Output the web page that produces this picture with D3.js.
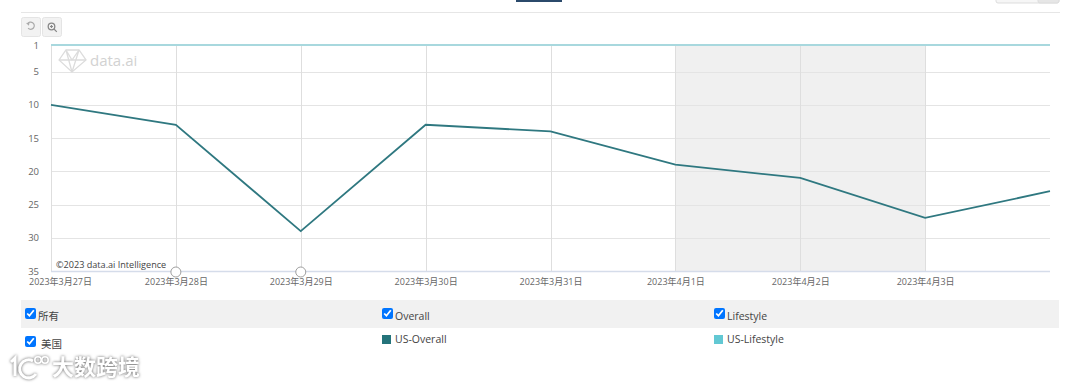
<!DOCTYPE html>
<html>
<head>
<meta charset="utf-8">
<script src="https://cdn.jsdelivr.net/npm/d3@7"></script>
<style>
  html, body { margin: 0; padding: 0; background: #fff; overflow: hidden; }
  #chart { position: relative; width: 1080px; height: 386px; }
  svg { position: absolute; left: 0; top: 0; }
  text { font-family: "Open Sans", "Noto Sans CJK SC", sans-serif; }
  input { position: absolute; margin: 0; width: 11px; height: 11px; }
  .axis text { font-size: 9.5px; fill: #666; }
  .x-axis text { font-size: 9px; }
  .axis path, .axis line { display: none; }
  .legend-text { font-size: 10.5px; fill: #444; }
</style>
</head>
<body>
<div id="chart"></div>
<script>
// データ
const dates = ['2023-03-27', '2023-03-28', '2023-03-29', '2023-03-30', '2023-03-31', '2023-04-01', '2023-04-02', '2023-04-03', '2023-04-04'];
const overallRank = [10, 13, 29, 13, 14, 19, 21, 27, 23];
const lifestyleRank = [1, 1, 1, 1, 1, 1, 1, 1, 1];
const yTicks = [1, 5, 10, 15, 20, 25, 30, 35];
const weekend = ['2023-04-01', '2023-04-03'];
const eventDates = ['2023-03-28', '2023-03-29'];
const headerLabels = ['所有', 'Overall', 'Lifestyle'];
const rowLabels = ['美国', 'US-Overall', 'US-Lifestyle'];

const colors = { overall: '#2f7880', lifestyle: '#a8d8de', swatchOverall: '#24737a', swatchLifestyle: '#62c8d3' };
const width = 1080, height = 386;
const margin = { top: 45, right: 30, bottom: 115, left: 51 };

const parseDay = d3.utcParse('%Y-%m-%d');
const formatDay = d => `${d.getUTCFullYear()}年${d.getUTCMonth() + 1}月${d.getUTCDate()}日`;

const container = d3.select('#chart');
const svg = container.append('svg').attr('width', width).attr('height', height);

const x = d3.scaleUtc()
    .domain(d3.extent(dates, parseDay))
    .range([margin.left, width - margin.right]);
const y = d3.scaleLinear()
    .domain([1, 35])
    .range([margin.top, height - margin.bottom]);

// 上部の枠とボタン
svg.append('rect').attr('x', 516).attr('y', 0).attr('width', 46).attr('height', 2).attr('fill', '#2b4a6b');
svg.append('rect').attr('x', 996).attr('y', -4).attr('width', 63).attr('height', 7).attr('rx', 2)
    .attr('fill', '#f6f6f6').attr('stroke', '#ddd');
svg.append('rect').attr('x', 1038).attr('y', -4).attr('width', 21).attr('height', 7).attr('rx', 2)
    .attr('fill', '#e6e6e6').attr('stroke', '#ddd');
svg.append('line').attr('x1', 21).attr('x2', 1060).attr('y1', 12.5).attr('y2', 12.5).attr('stroke', '#e6e6e6');

const buttons = svg.selectAll('.tool').data([21.5, 42.5]).enter().append('g')
    .attr('class', 'tool').attr('transform', d => `translate(${d},17.5)`);
buttons.append('rect').attr('width', 19).attr('height', 19).attr('rx', 2)
    .attr('fill', '#f2f2f2').attr('stroke', '#e4e4e4');
// 元に戻すアイコン
svg.append('path').attr('d', 'M27.5 24 a3.6 3.6 0 1 1 0.6 4.2').attr('fill', 'none').attr('stroke', '#aaa').attr('stroke-width', 1.2);
svg.append('path').attr('d', 'M26 23 l3.5 -0.3 l-0.6 3 z').attr('fill', '#aaa');
// ズームアイコン
svg.append('circle').attr('cx', 51.5).attr('cy', 26.5).attr('r', 3.3).attr('fill', 'none').attr('stroke', '#888').attr('stroke-width', 1.3);
svg.append('path').attr('d', 'M54 29 L56.8 31.8 M50 26.5 H53 M51.5 25 V28').attr('stroke', '#888').attr('stroke-width', 1.2).attr('fill', 'none');

// 週末の帯
svg.append('rect')
    .attr('x', x(parseDay(weekend[0])))
    .attr('y', y(1))
    .attr('width', x(parseDay(weekend[1])) - x(parseDay(weekend[0])))
    .attr('height', y(35) - y(1))
    .attr('fill', '#f0f0f0');

// グリッド線
svg.append('g').selectAll('line').data(yTicks).enter().append('line')
    .attr('x1', margin.left).attr('x2', width - margin.right)
    .attr('y1', d => Math.round(y(d)) + 0.5).attr('y2', d => Math.round(y(d)) + 0.5)
    .attr('stroke', '#e4e4e4');
svg.append('g').selectAll('line').data(dates.slice(0, -1)).enter().append('line')
    .attr('x1', d => Math.round(x(parseDay(d))) + 0.5).attr('x2', d => Math.round(x(parseDay(d))) + 0.5)
    .attr('y1', y(1)).attr('y2', y(35))
    .attr('stroke', '#dedede');

// ウォーターマーク
const logo = svg.append('g').attr('fill', 'none').attr('stroke', '#dcdcdc').attr('stroke-width', 1.3);
logo.append('path').attr('d', 'M59 60 L66 50 H79 L86 60 L72 72 Z');
logo.append('path').attr('d', 'M59 60 H86 M66 50 L72 72 M79 50 L72 72 M66 50 L72 60 L79 50');
svg.append('text').attr('x', 90).attr('y', 66).attr('font-size', 15).attr('fill', '#d2d2d2').text('data.ai');

// 軸
const yAxis = d3.axisLeft(y).tickValues(yTicks).tickSize(0).tickPadding(12);
svg.append('g').attr('class', 'axis').attr('transform', `translate(${margin.left},0)`).call(yAxis);

const xAxis = d3.axisBottom(x)
    .tickValues(dates.slice(0, -1).map(parseDay))
    .tickFormat(formatDay)
    .tickSize(0)
    .tickPadding(8);
const xAxisG = svg.append('g').attr('class', 'axis x-axis').attr('transform', `translate(0,${y(35)})`).call(xAxis);
xAxisG.selectAll('text').filter((d, i) => i === 0).attr('dx', 9);

svg.append('line').attr('x1', margin.left).attr('x2', width - margin.right)
    .attr('y1', y(35) + 0.5).attr('y2', y(35) + 0.5).attr('stroke', '#d5dcea').attr('stroke-width', 1.5);

// 折れ線
const line = d3.line().x((d, i) => x(parseDay(dates[i]))).y(d => y(d));
svg.append('path').datum(lifestyleRank).attr('d', line)
    .attr('fill', 'none').attr('stroke', colors.lifestyle).attr('stroke-width', 2);
svg.append('path').datum(overallRank).attr('d', line)
    .attr('fill', 'none').attr('stroke', colors.overall).attr('stroke-width', 1.8);

// イベントマーカー
svg.append('g').selectAll('circle').data(eventDates).enter().append('circle')
    .attr('cx', d => x(parseDay(d))).attr('cy', y(35) + 1).attr('r', 5)
    .attr('fill', '#fff').attr('stroke', '#888').attr('stroke-width', 0.8);

svg.append('text').attr('x', 56).attr('y', 268).attr('font-size', 9.1).attr('fill', '#444').text('©2023 data.ai Intelligence');

// 凡例
svg.append('rect').attr('x', 21).attr('y', 300).attr('width', 1038).attr('height', 28).attr('fill', '#f1f1f1');

const legendX = [25, 382, 714];
svg.selectAll('.header-label').data(headerLabels).enter().append('text')
    .attr('class', 'legend-text')
    .attr('x', (d, i) => legendX[i] + 13).attr('y', 320).text(d => d);
legendX.forEach(left => {
    container.append('input').attr('type', 'checkbox').property('checked', true)
        .style('left', `${left}px`).style('top', '308px');
});
container.append('input').attr('type', 'checkbox').property('checked', true)
    .style('left', '25px').style('top', '336px');

svg.append('text').attr('class', 'legend-text').attr('x', 41).attr('y', 348).text(rowLabels[0]);
svg.selectAll('.swatch').data([colors.swatchOverall, colors.swatchLifestyle]).enter().append('rect')
    .attr('x', (d, i) => legendX[i + 1]).attr('y', 335).attr('width', 9).attr('height', 9).attr('fill', d => d);
svg.selectAll('.row-label').data(rowLabels.slice(1)).enter().append('text')
    .attr('class', 'legend-text')
    .attr('x', (d, i) => legendX[i + 1] + 13).attr('y', 343).text(d => d);

// 左下の透かし
const stamp = svg.append('g').style('filter', 'drop-shadow(0 0 1.5px #666)');
stamp.append('path').attr('d', 'M11 362 L15 358 V376').attr('fill', 'none').attr('stroke', '#fff').attr('stroke-width', 3);
stamp.append('path').attr('d', 'M33 361 a9 9 0 1 0 3 13').attr('fill', 'none').attr('stroke', '#fff').attr('stroke-width', 3);
stamp.append('circle').attr('cx', 38).attr('cy', 360).attr('r', 3.2).attr('fill', 'none').attr('stroke', '#fff').attr('stroke-width', 1.6);
stamp.append('circle').attr('cx', 45).attr('cy', 360).attr('r', 3.2).attr('fill', 'none').attr('stroke', '#fff').attr('stroke-width', 1.6);
stamp.append('text').attr('x', 52).attr('y', 375).attr('font-size', 22).attr('font-weight', 700)
    .attr('fill', '#fff').attr('style', 'font-family:"Noto Sans CJK SC"').text('大数跨境');
</script>
</body>
</html>
